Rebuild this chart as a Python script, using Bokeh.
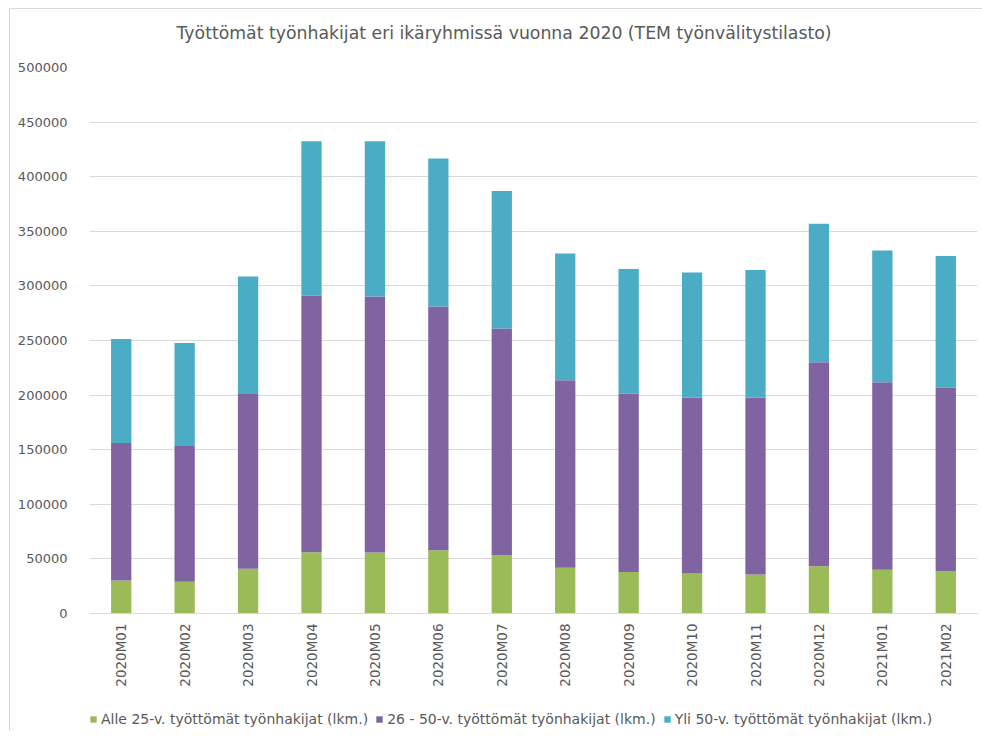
from bokeh.plotting import figure
from bokeh.layouts import column
from bokeh.models import (ColumnDataSource, Legend, LegendItem, NumeralTickFormatter,
                          FixedTicker, Title, Range1d)
from bokeh.embed import file_html
from bokeh.resources import INLINE
import math

months = ["2020M01", "2020M02", "2020M03", "2020M04", "2020M05", "2020M06", "2020M07",
          "2020M08", "2020M09", "2020M10", "2020M11", "2020M12", "2021M01", "2021M02"]
under25 = [30200, 29000, 40900, 56100, 55800, 58000, 53400, 41800, 38100, 36600, 35700, 43300, 40000, 39000]
age26_50 = [126000, 125000, 160100, 234900, 234600, 223200, 207700, 171700, 163200, 161000, 161900, 186700, 171700, 167800]
over50 = [95100, 93700, 107700, 141500, 142100, 135400, 125900, 116200, 114100, 114700, 116900, 126900, 120800, 120500]

series = ["under25", "age26_50", "over50"]
labels = ["Alle 25-v. työttömät työnhakijat (lkm.)",
          "26 - 50-v. työttömät työnhakijat (lkm.)",
          "Yli 50-v. työttömät työnhakijat (lkm.)"]
colors = ["#9BBB59", "#8064A2", "#4BACC6"]
title_text = "Työttömät työnhakijat eri ikäryhmissä vuonna 2020 (TEM työnvälitystilasto)"

source = ColumnDataSource(dict(months=months, under25=under25, age26_50=age26_50, over50=over50))

FONT = "DejaVu Sans"
TXT = "#595959"

p = figure(x_range=months, y_range=(0, 500000), title=None,
           output_backend="svg", toolbar_location=None,
           min_border_left=79, min_border_right=5, min_border_top=58, min_border_bottom=94)
p.frame_width = 888
p.frame_height = 546

p.vbar_stack(series, x="months", width=0.32, color=colors, source=source, line_width=0)

spacer = Title(text=" ", text_font_size="1px", standoff=11)
p.add_layout(spacer, "above")
main_title = Title(text=title_text, align="left", offset=87, text_font=FONT,
                   text_font_size="17.3px", text_font_style="normal", text_color=TXT,
                   standoff=22)
p.add_layout(main_title, "above")

p.yaxis.ticker = FixedTicker(ticks=list(range(0, 500001, 50000)))
p.yaxis.formatter = NumeralTickFormatter(format="0")
p.yaxis.axis_line_color = None
p.yaxis.major_tick_line_color = None
p.yaxis.minor_tick_line_color = None
p.yaxis.major_label_text_font = FONT
p.yaxis.major_label_text_font_size = "13px"
p.yaxis.major_label_text_color = TXT
p.yaxis.major_label_standoff = 16

p.xaxis.axis_line_color = "#d9d9d9"
p.xaxis.major_tick_line_color = None
p.xaxis.minor_tick_line_color = None
p.xaxis.major_tick_out = 0
p.xaxis.major_label_orientation = math.pi / 2
p.xaxis.major_label_text_font = FONT
p.xaxis.major_label_text_font_size = "13.5px"
p.xaxis.major_label_text_color = TXT
p.xaxis.major_label_standoff = 10

p.xgrid.grid_line_color = None
p.ygrid.grid_line_color = "#d9d9d9"
p.ygrid.grid_line_width = 1
p.outline_line_color = None

# legend strip: same stacked renderers, hidden, so only the legend entries are drawn
pl = figure(width=972, height=24, x_range=months, y_range=Range1d(-2, -1),
            x_axis_type=None, y_axis_type=None,
            output_backend="svg", toolbar_location=None,
            min_border_left=0, min_border_right=0, min_border_top=0, min_border_bottom=0)
pl.grid.visible = False
pl.outline_line_color = None
dummies = pl.vbar_stack(series, x="months", width=0.32, color=colors, source=source, line_width=0)
for r in dummies:
    r.visible = False
legend = Legend(items=[LegendItem(label=l, renderers=[r]) for l, r in zip(labels, dummies)],
                orientation="horizontal", location=(0, 4),
                label_text_font=FONT, label_text_font_size="14px", label_text_color=TXT,
                glyph_width=8, glyph_height=8, spacing=7, label_standoff=4,
                inactive_fill_alpha=0, click_policy="none",
                background_fill_alpha=0, border_line_color=None, padding=0, margin=0)
pl.add_layout(legend, "center")

layout = column(p, pl, spacing=0, margin=(8, 0, 0, 9))
layout.styles = {"border-left": "1px solid #d9d9d9", "border-top": "1px solid #d9d9d9"}

open("out.html", "w").write(file_html(layout, INLINE))
